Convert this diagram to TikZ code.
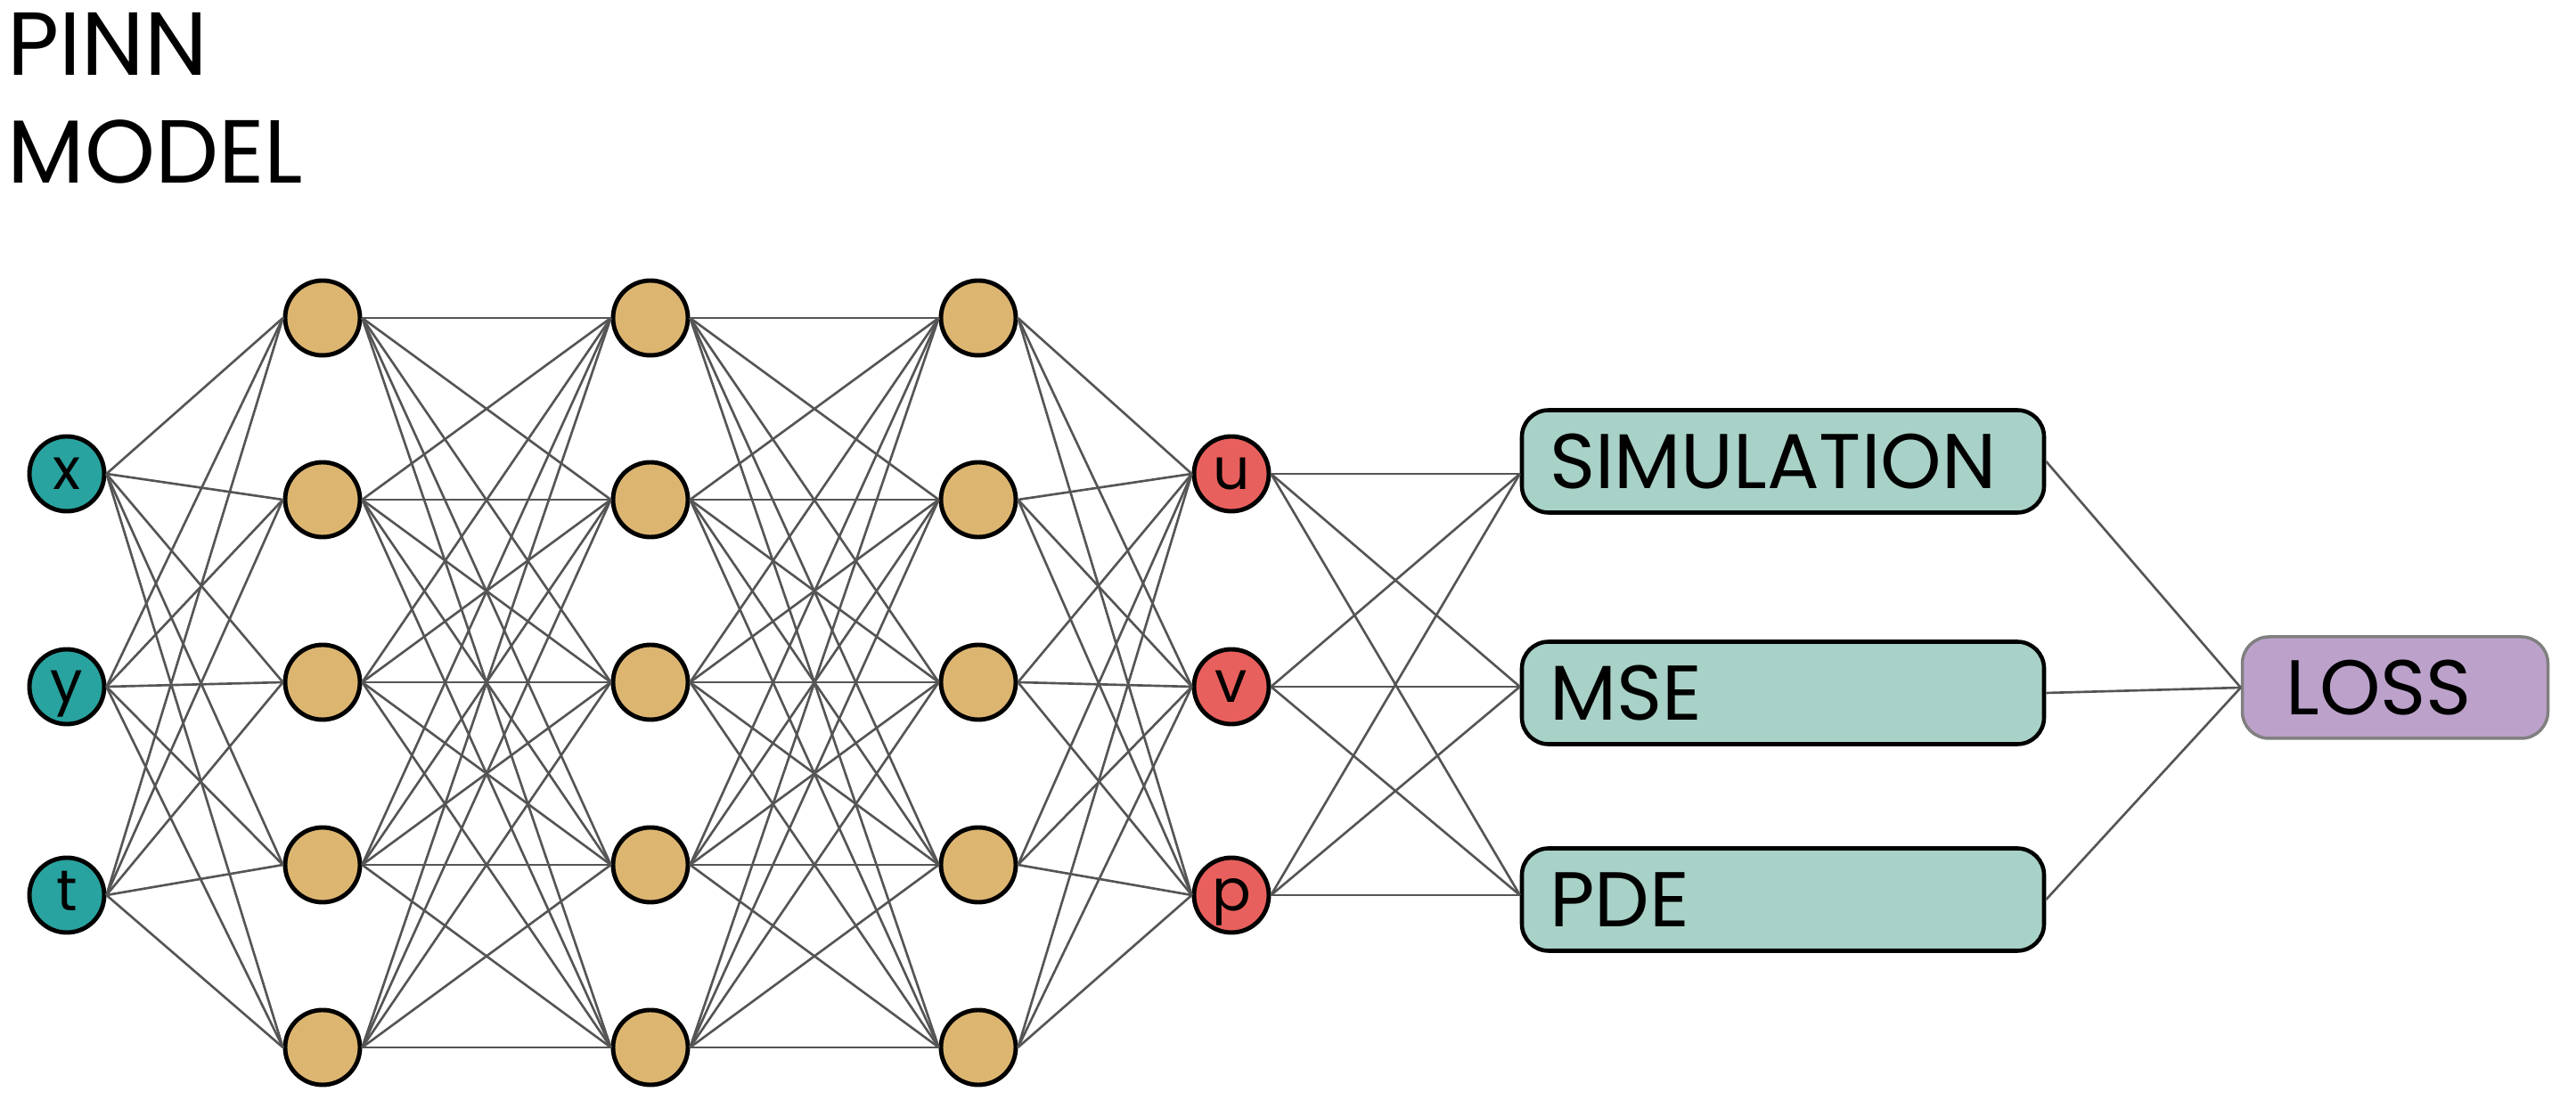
\documentclass[tikz,border=0pt]{standalone}
\usepackage{fontspec}
\setmainfont{Poppins}
\usepackage{tikz}
\usetikzlibrary{positioning,calc}

\definecolor{inteal}{HTML}{29A39F}
\definecolor{hidtan}{HTML}{DCB671}
\definecolor{outred}{HTML}{E8605D}
\definecolor{boxgreen}{HTML}{A8D1C7}
\definecolor{losspurple}{HTML}{BCA2CB}
\definecolor{wiregray}{HTML}{555555}

\tikzset{
  title/.style={anchor=base west, inner sep=0pt, font=\fontsize{28.6}{30}\selectfont},
  neuron/.style={circle, draw=black, line width=1.4pt, minimum size=0.84cm, inner sep=0pt,
    text height=0.356cm, text depth=0pt, font=\fontsize{18.4}{19}\selectfont},
  inp/.style={neuron, fill=inteal},
  hid/.style={neuron, fill=hidtan},
  outp/.style={neuron, fill=outred},
  term/.style={rectangle, rounded corners=0.3cm, draw=black, line width=1.3pt, fill=boxgreen,
    minimum width=5.86cm, minimum height=1.15cm, text width=5.24cm, align=left,
    inner xsep=0.31cm, font=\fontsize{24.8}{26}\selectfont},
  lossbox/.style={term, fill=losspurple, draw=gray, line width=1pt,
    minimum width=3.43cm, minimum height=1.14cm, text width=2.45cm, inner xsep=0.49cm},
  wire/.style={draw=wiregray, line width=0.75pt},
}

\begin{document}
\begin{tikzpicture}
    \useasboundingbox (0,0) rectangle (28.91,12.44);
    % Title
    \node[title] (pinn) at (0.08,11.59) {PINN};
    \node[title] (model) at (0.08,10.385) {MODEL};

    % Inputs
    \foreach \n/\y in {x/7.12, y/4.73, t/2.39}
        \node[inp] (in-\n) at (0.75,\y) {\n};
    % Hidden layers
    \foreach \l/\x in {1/3.62, 2/7.30, 3/10.98}
        \foreach \r/\y in {1/8.87, 2/6.83, 3/4.78, 4/2.73, 5/0.68}
            \node[hid] (h\l-\r) at (\x,\y) {};
    % Outputs
    \foreach \n/\y in {u/7.12, v/4.73, p/2.39}
        \node[outp] (out-\n) at (13.82,\y) {\n};

    % Loss terms
    \node[term] (sim) at (20.01,7.26) {SIMULATION};
    \node[term] (mse) at (20.01,4.66) {MSE};
    \node[term] (pde) at (20.01,2.34) {PDE};
    \node[lossbox] (loss) at (26.88,4.72) {LOSS};

    % Connections
    \foreach \n in {x,y,t}
        \foreach \r in {1,...,5}
            \draw[wire] (in-\n.east) -- (h1-\r.west);
    \foreach \l/\m in {1/2, 2/3}
        \foreach \r in {1,...,5}
            \foreach \s in {1,...,5}
                \draw[wire] (h\l-\r.east) -- (h\m-\s.west);
    \foreach \r in {1,...,5}
        \foreach \n in {u,v,p}
            \draw[wire] (h3-\r.east) -- (out-\n.west);
    \foreach \n in {u,v,p}
        \foreach \b/\k in {sim/u, mse/v, pde/p}
            \draw[wire] (out-\n.east) -- (\b.west |- out-\k);
    \foreach \b in {sim,mse,pde}
        \draw[wire] (\b.east) -- (loss.west);
\end{tikzpicture}
\end{document}
